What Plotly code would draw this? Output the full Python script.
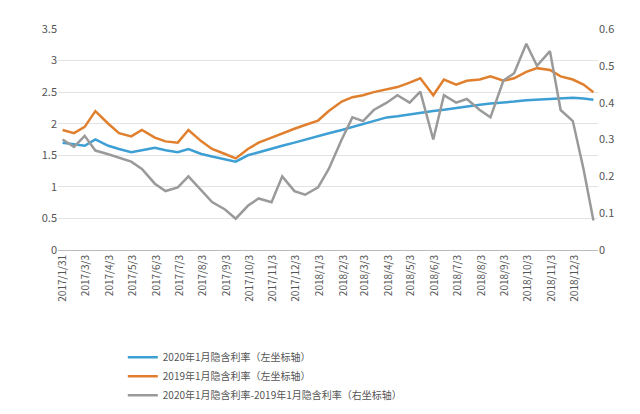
import plotly.graph_objects as go

dates = ["2017-01-31", "2017-02-15", "2017-03-01", "2017-03-15", "2017-04-01", "2017-04-15",
         "2017-05-01", "2017-05-15", "2017-06-01", "2017-06-15", "2017-07-01", "2017-07-15",
         "2017-08-01", "2017-08-15", "2017-09-01", "2017-09-15", "2017-10-01", "2017-10-15",
         "2017-11-01", "2017-11-15", "2017-12-01", "2017-12-15", "2018-01-01", "2018-01-15",
         "2018-02-01", "2018-02-15", "2018-03-01", "2018-03-15", "2018-04-01", "2018-04-15",
         "2018-05-01", "2018-05-15", "2018-06-01", "2018-06-15", "2018-07-01", "2018-07-15",
         "2018-08-01", "2018-08-15", "2018-09-01", "2018-09-15", "2018-10-01", "2018-10-15",
         "2018-11-01", "2018-11-15", "2018-12-01", "2018-12-15", "2018-12-28"]

rate_2020 = [1.70, 1.68, 1.65, 1.75, 1.65, 1.60, 1.55, 1.58, 1.62, 1.58,
             1.55, 1.60, 1.52, 1.48, 1.44, 1.40, 1.50, 1.55, 1.60, 1.65,
             1.70, 1.75, 1.80, 1.85, 1.90, 1.95, 2.00, 2.05, 2.10, 2.12,
             2.15, 2.18, 2.20, 2.22, 2.25, 2.27, 2.30, 2.32, 2.33, 2.35,
             2.37, 2.38, 2.40, 2.40, 2.41, 2.40, 2.38]

rate_2019 = [1.90, 1.85, 1.95, 2.20, 2.00, 1.85, 1.80, 1.90, 1.78, 1.72,
             1.70, 1.90, 1.72, 1.60, 1.52, 1.45, 1.60, 1.70, 1.78, 1.85,
             1.92, 1.98, 2.05, 2.20, 2.35, 2.42, 2.45, 2.50, 2.55, 2.58,
             2.65, 2.72, 2.45, 2.70, 2.62, 2.68, 2.70, 2.75, 2.68, 2.72,
             2.82, 2.88, 2.85, 2.75, 2.70, 2.62, 2.50]

spread = [0.30, 0.28, 0.31, 0.27, 0.26, 0.25, 0.24, 0.22, 0.18, 0.16,
          0.17, 0.20, 0.16, 0.13, 0.11, 0.085, 0.12, 0.14, 0.13, 0.20,
          0.16, 0.15, 0.17, 0.22, 0.30, 0.36, 0.35, 0.38, 0.40, 0.42,
          0.40, 0.43, 0.30, 0.42, 0.40, 0.41, 0.38, 0.36, 0.46, 0.48,
          0.56, 0.50, 0.54, 0.38, 0.35, 0.22, 0.08]

tick_dates = ["2017-01-31", "2017-03-03", "2017-04-03", "2017-05-03", "2017-06-03", "2017-07-03",
              "2017-08-03", "2017-09-03", "2017-10-03", "2017-11-03", "2017-12-03", "2018-01-03",
              "2018-02-03", "2018-03-03", "2018-04-03", "2018-05-03", "2018-06-03", "2018-07-03",
              "2018-08-03", "2018-09-03", "2018-10-03", "2018-11-03", "2018-12-03"]
tick_text = [d.replace("-0", "-").replace("-", "/") for d in tick_dates]

names = ["2020年1月隐含利率（左坐标轴）", "2019年1月隐含利率（左坐标轴）",
         "2020年1月隐含利率-2019年1月隐含利率（右坐标轴）"]

fig = go.Figure()
fig.add_trace(go.Scatter(x=dates, y=rate_2020, name=names[0], line=dict(color="#3d9fd4", width=2.5)))
fig.add_trace(go.Scatter(x=dates, y=rate_2019, name=names[1], line=dict(color="#e0802e", width=2.5)))
fig.add_trace(go.Scatter(x=dates, y=spread, name=names[2], yaxis="y2", line=dict(color="#9a9a9a", width=2.5)))

fig.update_layout(
    width=640, height=414,
    margin=dict(l=50, r=50, t=15, b=147),
    paper_bgcolor="white", plot_bgcolor="white",
    font=dict(family="Noto Sans CJK SC", size=11, color="#555555"),
    xaxis=dict(type="date", tickvals=tick_dates, ticktext=tick_text, tickangle=-90,
               range=["2017-01-25", "2019-01-03"], showgrid=False,
               showline=True, linecolor="#bbbbbb", tickfont=dict(size=10)),
    yaxis=dict(range=[0, 3.5], dtick=0.5, gridcolor="#e3e3e3", zeroline=False),
    yaxis2=dict(range=[0, 0.6], dtick=0.1, overlaying="y", side="right", showgrid=False,
                zeroline=False),
    legend=dict(x=0.12, y=-0.42, xanchor="left", yanchor="top", font=dict(size=10),
                tracegroupgap=0),
    showlegend=True,
)

fig.write_html("out.html")
